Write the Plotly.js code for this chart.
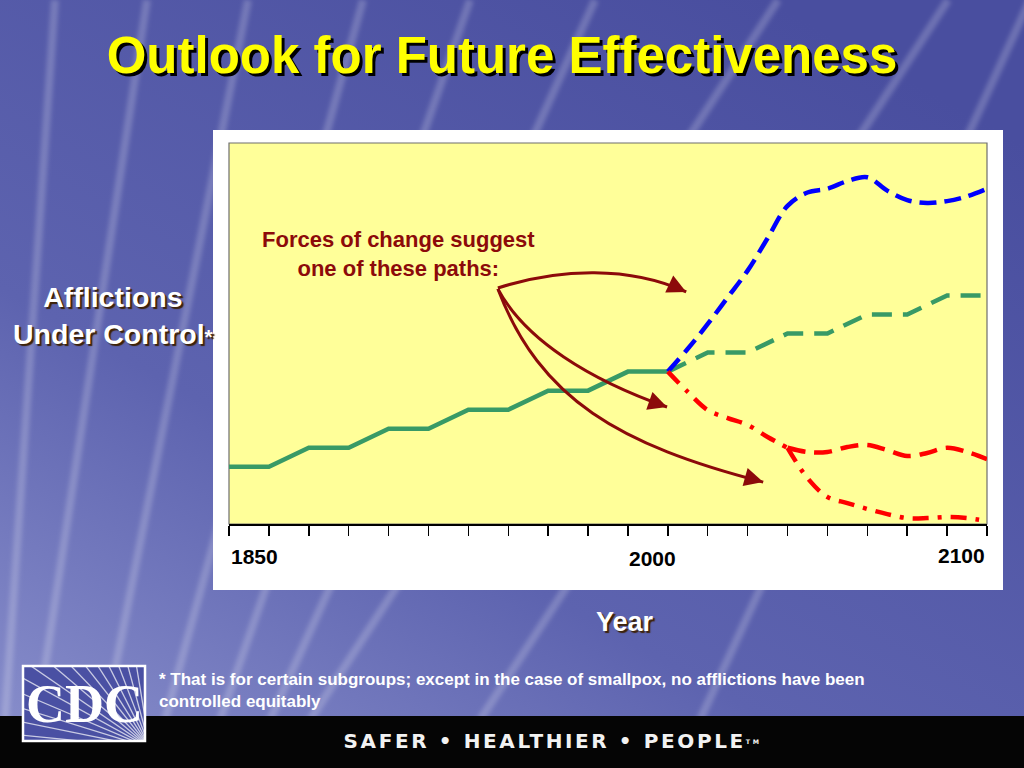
<!DOCTYPE html>
<html>
<head>
<meta charset="utf-8">
<script src="https://cdn.plot.ly/plotly-3.0.1.min.js"></script>
<style>html,body{margin:0;padding:0;background:#4a4e9f;}#chart{width:1024px;height:768px;}</style>
</head>
<body>
<div id="chart"></div>
<script>
// ---------- data (x = tick index along the time axis, y = afflictions under control, arbitrary units) ----------
const histX   = [0, 1, 2, 3, 4, 5, 6, 7, 8, 9, 10, 11];
const histY   = [3, 3, 4, 4, 5, 5, 6, 6, 7, 7, 8, 8];
const steadyX = [11, 12, 13, 14, 15, 16, 17, 18, 19];
const steadyY = [8, 9, 9, 10, 10, 11, 11, 12, 12];
const optimX  = [11, 11.5, 12, 12.5, 13, 13.5, 14, 14.5, 15, 15.5, 16, 16.5, 17, 17.5, 18, 18.5, 19];
const optimY  = [8.0, 9.2, 10.5, 11.9, 13.3, 15.0, 16.7, 17.4, 17.6, 18.0, 18.2, 17.5, 17.0, 16.85, 16.95, 17.2, 17.6];
const declineX = [11, 11.5, 12, 12.5, 13, 13.5, 14];
const declineY = [8.0, 6.93, 5.98, 5.56, 5.2, 4.57, 4.0];
const stallX  = [14, 14.5, 15, 15.5, 16, 16.5, 17, 17.5, 18, 18.5, 19];
const stallY  = [4.0, 3.78, 3.78, 4.04, 4.15, 3.88, 3.57, 3.73, 4.0, 3.78, 3.41];
const lossX   = [14, 14.5, 15, 15.5, 16, 16.5, 17, 17.5, 18, 18.5, 19];
const lossY   = [4.0, 2.41, 1.42, 1.1, 0.79, 0.52, 0.31, 0.31, 0.37, 0.31, 0.16];
const tickLabels = ['1850', '2000', '2100'];
const tickIdx    = [0, 11, 19];
const tickCount  = 20;

// ---------- layout helpers (page pixels -> paper coords) ----------
const L = 229, R = 987, T = 143, B = 524;
const W = 1024, H = 768;
const pxX = p => (p - L) / (R - L);
const pxY = p => (B - p) / (B - T);

const FONT = 'Liberation Sans, Arial, Helvetica, sans-serif';
const DARKRED = '#8c0a0a';

// ---------- background picture (slide) ----------
const streaks = [[55,5],[147,37],[248,105],[363,165],[470,220],[595,270],[778,310],[948,480],[1030,700]];
let rays = '';
for (let i = 0; i < 16; i++) {
  const a = Math.PI * (0.52 + i * 0.032);
  const x2 = 150 + 260 * Math.cos(a), y2 = 748 - 260 * Math.sin(a);
  rays += `<line x1='150' y1='748' x2='${x2.toFixed(1)}' y2='${y2.toFixed(1)}'/>`;
}
const bgSvg = `<svg xmlns='http://www.w3.org/2000/svg' width='1024' height='768' viewBox='0 0 1024 768'>
<defs>
<linearGradient id='g' x1='0' y1='1' x2='0.75' y2='0'>
<stop offset='0' stop-color='#8b91cd'/><stop offset='0.4' stop-color='#5d63af'/><stop offset='1' stop-color='#494e9f'/>
</linearGradient>
<clipPath id='c'><rect x='24' y='667' width='120' height='73'/></clipPath>
<filter id='b'><feGaussianBlur stdDeviation='2'/></filter>
</defs>
<rect width='1024' height='768' fill='url(#g)'/>
<g stroke='#ffffff' stroke-opacity='0.2' stroke-width='8' fill='none' filter='url(#b)'>
${streaks.map(s => `<line x1='${s[0]}' y1='0' x2='${s[1]}' y2='720'/>`).join('')}
</g>
<rect y='716' width='1024' height='52' fill='#050505'/>
<rect x='23' y='666' width='122' height='75' fill='#4a50a3' stroke='#ffffff' stroke-width='2.5'/>
<g clip-path='url(#c)' stroke='#ffffff' stroke-opacity='0.7' stroke-width='1.3'>${rays}</g>
</svg>`;
const bgSrc = 'data:image/svg+xml;charset=utf-8,' + encodeURIComponent(bgSvg);

// ---------- traces ----------
const traces = [
  {x: histX, y: histY, mode: 'lines', line: {color: '#389a66', width: 4.5}},
  {x: steadyX, y: steadyY, mode: 'lines', line: {color: '#389a66', width: 4.5, dash: '20px,11px'}},
  {x: optimX, y: optimY, mode: 'lines', line: {color: '#0000ff', width: 4.5, dash: '17px,8px', shape: 'spline'}},
  {x: declineX, y: declineY, mode: 'lines', line: {color: '#ff0000', width: 4.5, dash: '16px,9px,4px,9px', shape: 'spline'}},
  {x: stallX, y: stallY, mode: 'lines', line: {color: '#ff0000', width: 4.5, dash: '18px,9px', shape: 'spline'}},
  {x: lossX, y: lossY, mode: 'lines', line: {color: '#ff0000', width: 4.5, dash: '16px,9px,4px,9px', shape: 'spline'}}
];
traces.forEach(t => { t.hoverinfo = 'skip'; t.showlegend = false; });

// ---------- curved arrows (decoration) ----------
const arrowPaths = [
  'M 6.74,12.39 C 8.30,13.44 10.05,13.54 11.46,12.18',
  'M 6.74,12.34 C 7.42,9.66 9.05,7.56 10.98,6.14',
  'M 6.74,12.34 C 7.80,6.51 9.80,4.15 13.39,2.20'
];
const arrowEnds = [[11.46, 12.18, -17, -8], [10.98, 6.14, -17, -6], [13.39, 2.20, -18, -5]];

const shapes = [
  {type: 'rect', xref: 'paper', yref: 'paper', x0: pxX(213), x1: pxX(1003), y0: pxY(590), y1: pxY(130),
   fillcolor: '#ffffff', line: {width: 0}, layer: 'below'},
  {type: 'rect', xref: 'paper', yref: 'paper', x0: 0, x1: 1, y0: 0, y1: 1,
   fillcolor: '#ffff99', line: {color: '#6e6e6e', width: 1.2}, layer: 'below'}
].concat(arrowPaths.map(p => ({type: 'path', xref: 'x', yref: 'y', path: p, line: {color: DARKRED, width: 3}})));

const shadowDark = '2px 2px 1px #3d2208';
const C = {xanchor: 'center', yanchor: 'middle', showarrow: false, xref: 'paper', yref: 'paper'};
const annotations = [
  Object.assign({}, C, {x: pxX(398), y: pxY(254), align: 'center',
   text: 'Forces of change suggest<br>one of these paths:',
   font: {family: FONT, size: 22, color: DARKRED, weight: 'bold'}}),
  Object.assign({}, C, {x: pxX(113), y: pxY(315), align: 'center',
   text: "Afflictions<br>Under Control<span style='font-size:21px'>*</span>",
   font: {family: FONT, size: 28.5, color: '#ffffff', weight: 'bold', shadow: shadowDark}}),
  Object.assign({}, C, {x: pxX(625), y: pxY(622), text: 'Year',
   font: {family: FONT, size: 27, color: '#ffffff', weight: 'bold', shadow: shadowDark}}),
  Object.assign({}, C, {x: pxX(157), y: pxY(668), xanchor: 'left', yanchor: 'top', align: 'left',
   text: '* That is for certain subgroups; except in the case of smallpox, no afflictions have been<br>controlled equitably',
   font: {family: FONT, size: 17, color: '#ffffff', weight: 'bold'}}),
  Object.assign({}, C, {x: pxX(84), y: pxY(704), text: 'CDC',
   font: {family: 'Liberation Serif, Times New Roman, serif', size: 54, color: '#ffffff', weight: 'bold'}}),
  Object.assign({}, C, {x: pxX(552), y: pxY(741),
   text: "SAFER • HEALTHIER • PEOPLE<span style='font-size:9px'><sup>TM</sup></span>",
   font: {family: 'DejaVu Sans, Verdana, sans-serif', size: 20, color: '#f2f2f2', weight: 'bold'}})
];
const tickAnchors = ['left', 'center', 'right'];
const tickShift = [0, -15, 0];
const tickYpx = [556, 558, 555];
tickLabels.forEach((t, i) => annotations.push({
  xref: 'x', yref: 'paper', x: tickIdx[i], y: pxY(tickYpx[i]), xanchor: tickAnchors[i], yanchor: 'middle',
  xshift: tickShift[i], showarrow: false, text: t, font: {family: FONT, size: 21, color: '#000000', weight: 'bold'}
}));
arrowEnds.forEach(a => annotations.push({
  xref: 'x', yref: 'y', x: a[0], y: a[1], ax: a[2], ay: a[3], text: '', showarrow: true,
  arrowhead: 2, arrowsize: 1.25, arrowwidth: 3, arrowcolor: DARKRED, standoff: 0
}));

const layout = {
  width: W, height: H,
  margin: {l: L, r: W - R, t: T, b: H - B, pad: 0},
  paper_bgcolor: '#4a4e9f',
  plot_bgcolor: 'rgba(0,0,0,0)',
  showlegend: false,
  title: {
    text: 'Outlook for Future Effectiveness',
    xref: 'container', yref: 'container', x: 502 / W, y: 1 - 55 / H, xanchor: 'center', yanchor: 'middle',
    font: {family: FONT, size: 51, color: '#ffff00', weight: 'bold', shadow: '3px 3px 0px #000000'}
  },
  xaxis: {
    range: [0, tickCount - 1], tickmode: 'linear', tick0: 0, dtick: 1,
    ticks: 'outside', ticklen: 10, tickwidth: 1.5, tickcolor: '#000000',
    showticklabels: false, showgrid: false, zeroline: false,
    showline: true, linecolor: '#000000', linewidth: 2, fixedrange: true
  },
  yaxis: {range: [0, 20], visible: false, fixedrange: true},
  images: [{source: bgSrc, xref: 'paper', yref: 'paper', x: pxX(0), y: pxY(0),
            sizex: W / (R - L), sizey: H / (B - T), xanchor: 'left', yanchor: 'top',
            sizing: 'stretch', layer: 'below'}],
  shapes: shapes,
  annotations: annotations
};

Plotly.newPlot('chart', traces, layout, {displayModeBar: false, staticPlot: true}).then(gd => {
  gd.querySelectorAll('.annotation-text').forEach(el => {
    if (el.textContent.indexOf('SAFER') === 0) el.style.letterSpacing = '2.6px';
  });
});
</script>
</body>
</html>
